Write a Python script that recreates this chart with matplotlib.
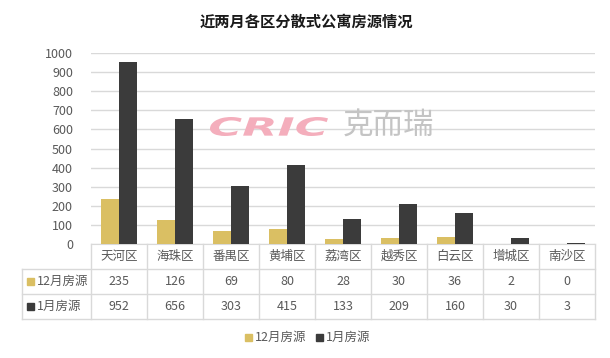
import matplotlib.pyplot as plt
from matplotlib.patches import Rectangle, PathPatch
from matplotlib.textpath import TextPath
from matplotlib.font_manager import FontProperties
from matplotlib.transforms import Affine2D, IdentityTransform

plt.rcParams['font.family'] = ['Noto Sans CJK SC', 'DejaVu Sans']

# data
districts = ['天河区', '海珠区', '番禺区', '黄埔区', '荔湾区', '越秀区', '白云区', '增城区', '南沙区']
dec_supply = [235, 126, 69, 80, 28, 30, 36, 2, 0]
jan_supply = [952, 656, 303, 415, 133, 209, 160, 30, 3]
series_names = ['12月房源', '1月房源']

gold = '#DABF63'
dark = '#3B3B3B'
grid_c = '#D9D9D9'
txt_c = '#595959'

W, H = 610, 358
fig = plt.figure(figsize=(W / 100, H / 100), dpi=100)
# plot area in pixels: x 91..595, y 53..244
ax = fig.add_axes([91 / W, (H - 244) / H, 504 / W, 191 / H])

x = list(range(len(districts)))
bw = 0.32
ax.bar([i - bw / 2 for i in x], dec_supply, width=bw, color=gold, zorder=3)
ax.bar([i + bw / 2 for i in x], jan_supply, width=bw, color=dark, zorder=3)

ax.set_xlim(-0.5, len(districts) - 0.5)
ax.set_ylim(0, 1000)
ax.set_yticks(range(0, 1001, 100))
ax.set_xticks([])
ax.tick_params(axis='y', length=0, pad=13, labelsize=9, labelcolor=txt_c)
ax.grid(axis='y', color=grid_c, linewidth=1, zorder=0)
for s in ['top', 'right', 'left']:
    ax.spines[s].set_visible(False)
ax.spines['bottom'].set_color(grid_c)

# watermark (CRIC 克而瑞), stretched wide like the logo
tp = TextPath((0, 0), 'CRIC', size=20,
              prop=FontProperties(family='DejaVu Sans', weight='bold', style='italic'))
ext = tp.get_extents()
x0, x1, y0, y1 = 210, 328, H - 136, H - 117
sx = (x1 - x0) / ext.width
sy = (y1 - y0) / ext.height
tf = Affine2D().translate(-ext.x0, -ext.y0).scale(sx, sy).translate(x0, y0)
fig.patches.append(PathPatch(tf.transform_path(tp), facecolor='#F4AEBC',
                             edgecolor='none', transform=IdentityTransform()))
fig.text(388 / W, (H - 126) / H, '克而瑞', fontsize=22, color='#C4C4C4', ha='center',
         va='center', zorder=2)

# data table below the axes
row_h = 25 / 191
left = -0.5 - 69 / 56
n = len(districts)
tr = ax.get_xaxis_transform()
line_kw = dict(color=grid_c, linewidth=1, clip_on=False, transform=tr)

for k in [1, 2, 3]:
    ax.plot([left, n - 0.5], [-k * row_h, -k * row_h], **line_kw)
for i in range(n + 1):
    ax.plot([i - 0.5, i - 0.5], [0, -3 * row_h], **line_kw)
ax.plot([left, left], [-row_h, -3 * row_h], **line_kw)

for i, name in enumerate(districts):
    ax.text(i, -0.5 * row_h, name, transform=tr, ha='center', va='center',
            fontsize=9, color=txt_c)
    ax.text(i, -1.5 * row_h, str(dec_supply[i]), transform=tr, ha='center',
            va='center', fontsize=9, color=txt_c)
    ax.text(i, -2.5 * row_h, str(jan_supply[i]), transform=tr, ha='center',
            va='center', fontsize=9, color=txt_c)

for k, (nm, c) in enumerate(zip(series_names, [gold, dark])):
    yc = (H - (281 + 25 * k)) / H
    fig.patches.append(Rectangle((27 / W, yc - 3.5 / H), 7 / W, 7 / H,
                                 color=c, transform=fig.transFigure))
    fig.text(37 / W, yc, nm, ha='left', va='center', fontsize=9, color=txt_c)

# bottom legend
leg = [(245, gold, series_names[0]), (316, dark, series_names[1])]
for px, c, nm in leg:
    yc = (H - 337) / H
    fig.patches.append(Rectangle((px / W, yc - 3.5 / H), 7 / W, 7 / H,
                                 color=c, transform=fig.transFigure))
    fig.text((px + 10) / W, yc, nm, ha='left', va='center', fontsize=9, color=txt_c)

fig.text(306 / W, (H - 22) / H, '近两月各区分散式公寓房源情况', ha='center', va='center',
         fontsize=11, fontweight='bold', color='#1A1A1A')

fig.savefig('out.png', dpi=100, facecolor='white')
